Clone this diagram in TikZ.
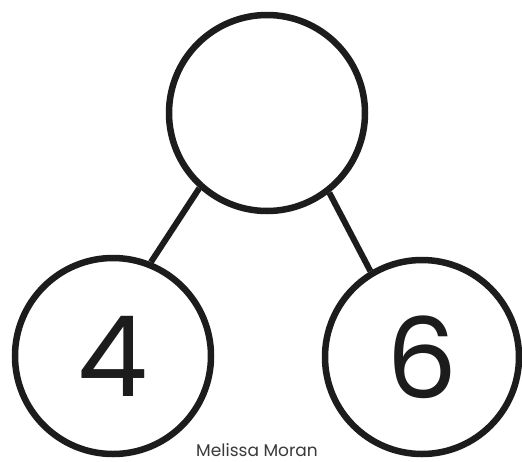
\documentclass[tikz,border=0pt]{standalone}
\usepackage{fontspec}
\setmainfont{Poppins}
\definecolor{ink}{HTML}{1C1C1C}
\definecolor{sig}{HTML}{3A3A3A}
\tikzset{
  bubble/.style={circle, draw=ink, line width=6.5pt, inner sep=0pt, text=ink},
  link/.style={draw=ink, line width=6pt},
  digit/.style={font=\fontsize{112}{112}\selectfont}
}
\begin{document}
\begin{tikzpicture}[x=1pt,y=-1pt]
\useasboundingbox (0,0) rectangle (522,461);
\fill[white] (0,0) rectangle (522,461);
\node[bubble, minimum size=196pt] (top) at (267,113) {};
\node[bubble, minimum size=196pt, digit] (left) at (113,356) {4};
\node[bubble, minimum size=194pt, digit] (right) at (422,357) {6};
\draw[link] (top.228) -- (left.68);
\draw[link] (top.308) -- (right.121);
\node[text=sig, font=\fontsize{17}{17}\selectfont, anchor=base] (sig) at (257,456) {Melissa Moran};
\end{tikzpicture}
\end{document}
